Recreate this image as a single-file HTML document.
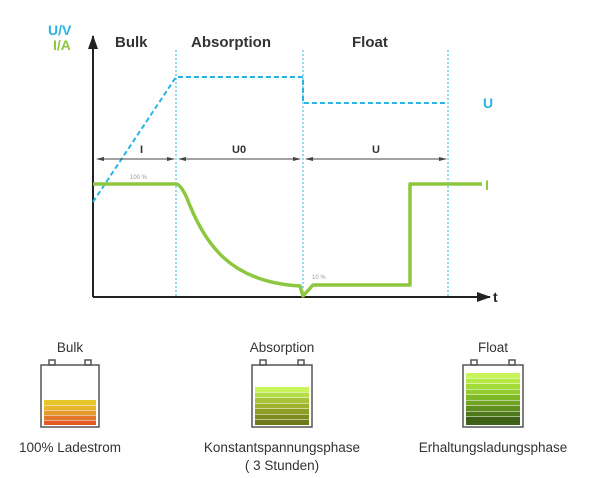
<!DOCTYPE html>
<html><head><meta charset="utf-8"><style>
body{margin:0;background:#fff;}
svg{display:block;font-family:"Liberation Sans",sans-serif;}
</style></head><body>
<svg width="600" height="478" viewBox="0 0 600 478" xmlns="http://www.w3.org/2000/svg">
<defs>
<marker id="ah" markerUnits="userSpaceOnUse" markerWidth="14" markerHeight="10" refX="13" refY="5" orient="auto"><path d="M0,0 L14,5 L0,10 z" fill="#222"/></marker>
<marker id="sa" markerWidth="8" markerHeight="6" refX="7" refY="3" orient="auto"><path d="M0,1 L8,3 L0,5 z" fill="#444"/></marker>
</defs>
<line x1="93" y1="297" x2="93" y2="36" stroke="#222" stroke-width="2" marker-end="url(#ah)"/>
<line x1="93" y1="297" x2="490" y2="297" stroke="#222" stroke-width="2" marker-end="url(#ah)"/>
<text x="493" y="302" font-size="14" font-weight="bold" fill="#222">t</text>
<text x="48" y="35" font-size="14" font-weight="bold" fill="#2ab4e6">U/V</text>
<text x="53" y="50" font-size="14" font-weight="bold" fill="#8dc63f">I/A</text>
<text x="115" y="47" font-size="15" font-weight="bold" fill="#333">Bulk</text>
<text x="191" y="47" font-size="15" font-weight="bold" fill="#333">Absorption</text>
<text x="352" y="47" font-size="15" font-weight="bold" fill="#333">Float</text>
<g stroke="#2ab4e6" stroke-width="1" stroke-dasharray="2,2">
<line x1="176" y1="50" x2="176" y2="297"/>
<line x1="303" y1="50" x2="303" y2="297"/>
<line x1="448" y1="50" x2="448" y2="297"/>
</g>
<polyline points="93,202 176,77 303,77 303,103 447,103" fill="none" stroke="#2ab4e6" stroke-width="2" stroke-dasharray="5,3"/>
<text x="483" y="108" font-size="14" font-weight="bold" fill="#2ab4e6">U</text>
<g stroke="#444" stroke-width="1">
<line x1="135" y1="159" x2="97" y2="159" marker-end="url(#sa)"/>
<line x1="135" y1="159" x2="174" y2="159" marker-end="url(#sa)"/>
<line x1="240" y1="159" x2="179" y2="159" marker-end="url(#sa)"/>
<line x1="240" y1="159" x2="300" y2="159" marker-end="url(#sa)"/>
<line x1="375" y1="159" x2="306" y2="159" marker-end="url(#sa)"/>
<line x1="375" y1="159" x2="446" y2="159" marker-end="url(#sa)"/>
</g>
<text x="140" y="153" font-size="11" font-weight="bold" fill="#333">I</text>
<text x="232" y="153" font-size="11" font-weight="bold" fill="#333">U0</text>
<text x="372" y="153" font-size="11" font-weight="bold" fill="#333">U</text>
<path d="M93,184 L176,184 Q180,184 186,196 C205,245 230,282 300,286 L303,296 L313,285 L410,285 L410,184 L482,184" fill="none" stroke="#8dc63f" stroke-width="3.5" stroke-linejoin="round"/>
<text x="485" y="190" font-size="14" font-weight="bold" fill="#8dc63f">I</text>
<text x="130" y="179" font-size="6" fill="#999">100 %</text>
<text x="312" y="279" font-size="6" fill="#999">10 %</text>
<g font-size="13.5" fill="#333" text-anchor="middle">
<text x="70" y="352">Bulk</text>
<text x="282" y="352">Absorption</text>
<text x="493" y="352">Float</text>
<text x="70" y="452">100% Ladestrom</text>
<text x="282" y="452">Konstantspannungsphase</text>
<text x="282" y="470">( 3 Stunden)</text>
<text x="493" y="452">Erhaltungsladungsphase</text>
</g>
<g fill="none" stroke="#555" stroke-width="1.5">
<rect x="41" y="365" width="58" height="62"/>
<rect x="49" y="360" width="6" height="5"/><rect x="85" y="360" width="6" height="5"/>
<rect x="252" y="365" width="60" height="62"/>
<rect x="260" y="360" width="6" height="5"/><rect x="298" y="360" width="6" height="5"/>
<rect x="463" y="365" width="60" height="62"/>
<rect x="471" y="360" width="6" height="5"/><rect x="509" y="360" width="6" height="5"/>
</g>
<g>
<rect x="44" y="400" width="52" height="5" fill="#e3c629"/>
<rect x="44" y="405.5" width="52" height="4.5" fill="#e8b52c"/>
<rect x="44" y="410.5" width="52" height="4.5" fill="#e59a2a"/>
<rect x="44" y="415.5" width="52" height="4.5" fill="#e0782a"/>
<rect x="44" y="420.5" width="52" height="4.5" fill="#e25a22"/>
</g>
<g>
<rect x="255" y="387" width="54" height="5" fill="#c8f35a"/>
<rect x="255" y="392.5" width="54" height="5" fill="#b4dd4a"/>
<rect x="255" y="398" width="54" height="5" fill="#a9c236"/>
<rect x="255" y="403.5" width="54" height="5" fill="#9fb02b"/>
<rect x="255" y="409" width="54" height="5" fill="#8f9e25"/>
<rect x="255" y="414.5" width="54" height="5" fill="#7f8c20"/>
<rect x="255" y="420" width="54" height="5" fill="#6e7b1d"/>
</g>
<g>
<rect x="466" y="373" width="54" height="5" fill="#c8f35a"/>
<rect x="466" y="378.5" width="54" height="5" fill="#b5ea44"/>
<rect x="466" y="384" width="54" height="5" fill="#a3dc36"/>
<rect x="466" y="389.5" width="54" height="5" fill="#92cc2e"/>
<rect x="466" y="395" width="54" height="5" fill="#80b927"/>
<rect x="466" y="400.5" width="54" height="5" fill="#6fa422"/>
<rect x="466" y="406" width="54" height="5" fill="#5f8f1e"/>
<rect x="466" y="411.5" width="54" height="5" fill="#4e791a"/>
<rect x="466" y="417" width="54" height="8" fill="#3d6215"/>
</g>
</svg>
</body></html>
